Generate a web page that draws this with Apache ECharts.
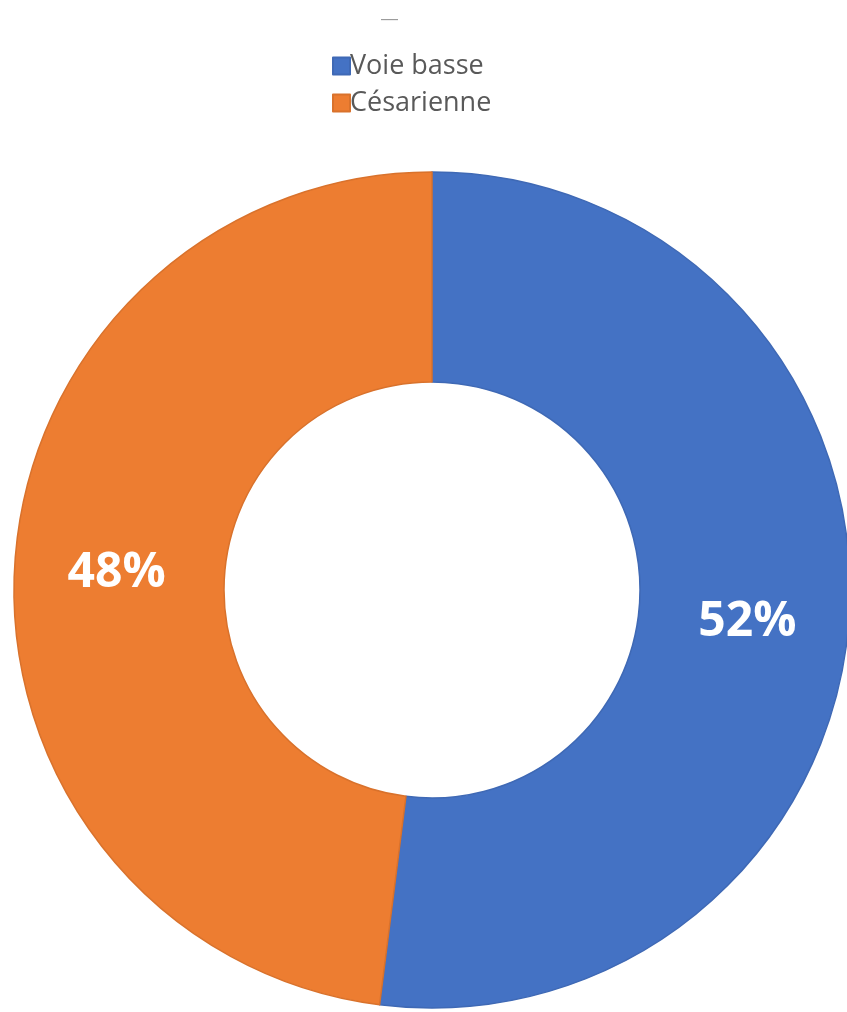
<!DOCTYPE html>
<html>
<head>
<meta charset="utf-8">
<script src="https://cdn.jsdelivr.net/npm/echarts@6/dist/echarts.min.js"></script>
<style>
  html, body { margin: 0; padding: 0; background: #ffffff; }
  #chart { width: 847px; height: 1012px; }
</style>
</head>
<body>
<div id="chart"></div>
<script>
// Mode d'accouchement
const categories = ['Voie basse', 'Césarienne'];
const values = [52, 48];
const colors = ['#4472C4', '#ED7D31'];
const borders = ['#3F69B5', '#D9722C'];
const labelOffsets = [[0, 12], [0, 3]];

const chart = echarts.init(document.getElementById('chart'));

chart.setOption({
  animation: false,
  title: {
    text: '—',
    left: 376,
    top: 6,
    textStyle: { fontSize: 17, color: '#9a9a9a', fontWeight: 'normal' }
  },
  legend: {
    data: categories,
    orient: 'vertical',
    left: 327,
    top: 44,
    itemWidth: 17,
    itemHeight: 17,
    itemGap: 3,
    icon: 'rect',
    textStyle: {
      fontFamily: 'Open Sans',
      fontSize: 27,
      lineHeight: 34,
      color: '#595959',
      padding: [0, 0, 0, -5]
    }
  },
  series: [{
    type: 'pie',
    center: [432, 590],
    radius: [208, 418],
    startAngle: 90,
    clockwise: true,
    avoidLabelOverlap: false,
    label: {
      show: true,
      position: 'inside',
      formatter: '{c}%',
      color: '#ffffff',
      fontFamily: 'Open Sans',
      fontWeight: 'bold',
      fontSize: 48
    },
    labelLine: { show: false },
    data: categories.map((name, i) => ({
      name: name,
      value: values[i],
      itemStyle: { color: colors[i], borderColor: borders[i], borderWidth: 1.5 },
      label: { offset: labelOffsets[i] }
    }))
  }]
});
</script>
</body>
</html>
